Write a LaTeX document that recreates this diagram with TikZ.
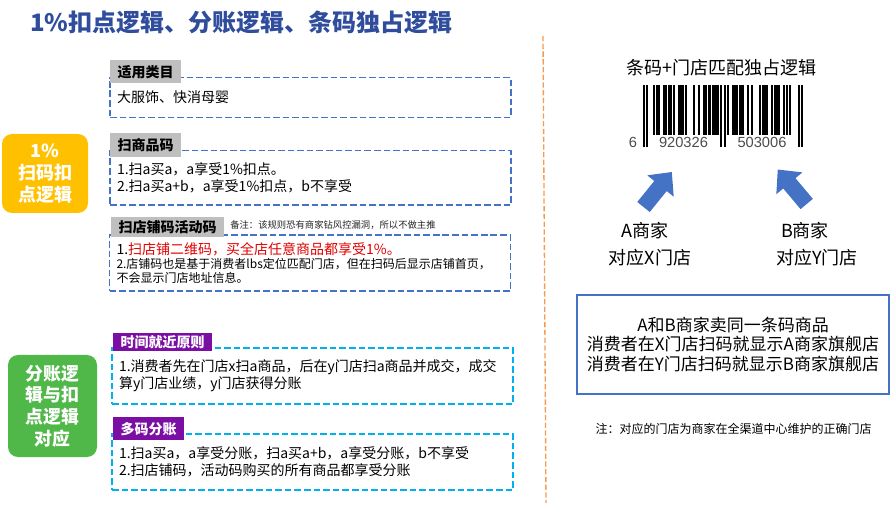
\documentclass[tikz,border=0pt]{standalone}
\usepackage{fontspec}
\setmainfont{Noto Sans CJK SC}
\newfontfamily\digitfont{Liberation Sans}
\usetikzlibrary{positioning}
\definecolor{titleblue}{HTML}{2F4D9C}
\definecolor{boxblue}{HTML}{4472C4}
\definecolor{boxcyan}{HTML}{00B0F0}
\definecolor{tagpurple}{HTML}{7B0FA3}
\definecolor{tagorange}{HTML}{FFC000}
\definecolor{taggreen}{HTML}{50B848}
\definecolor{tagred}{HTML}{E00000}
\definecolor{lineorange}{HTML}{F59B52}
\definecolor{taggrey}{HTML}{BFBFBF}
\tikzset{
  sidetag/.style={rounded corners=7.5pt,text=white,align=center,inner sep=0pt,font=\fontsize{13.5}{16.5}\selectfont\bfseries},
  dashbox/.style={draw=boxblue,dash pattern=on 5pt off 2.2pt,line width=0.9pt,text width=290.25pt,inner xsep=5.25pt,inner ysep=0pt,align=left},
  greytag/.style={fill=taggrey,anchor=north west,inner xsep=5.5pt,inner ysep=0pt,minimum height=17.25pt,font=\fontsize{10.5}{12}\selectfont\bfseries},
  purpletag/.style={greytag,fill=tagpurple,text=white},
  shoptext/.style={font=\fontsize{13.5}{15}\selectfont},
  digit/.style={text=black!70,inner sep=0pt,font=\digitfont\fontsize{11}{12}\selectfont}
}
\begin{document}
\begin{tikzpicture}[x=0.75pt,y=-0.75pt,font=\fontsize{10.5}{12.75}\selectfont]
\useasboundingbox (0,0) rectangle (890,506);
% title
\node[anchor=west,inner sep=0pt,text=titleblue,font=\fontsize{18}{20}\selectfont\bfseries] (title) at (30,22) {1\%扣点逻辑、分账逻辑、条码独占逻辑};
% left tags
\node[sidetag,fill=tagorange,minimum width=64.5pt,minimum height=59.25pt] (kou) at (45,173.5) {1\%\\扫码扣\\点逻辑};
\node[sidetag,fill=taggreen,minimum width=66.75pt,minimum height=76.5pt,font=\fontsize{13.4}{16.3}\selectfont\bfseries] (fen) at (52.5,406) {分账逻\\辑与扣\\点逻辑\\对应};
% rule boxes
\node[dashbox,minimum height=29.7pt] (lei) at (310.5,97.5) {大服饰、快消母婴};
\node[greytag] (leitag) at (110,60) {适用类目};
\node[dashbox,minimum height=40.7pt] (sao) at (310.5,177.9) {1.扫a买a，a享受1\%扣点。\\2.扫a买a+b，a享受1\%扣点，b不享受};
\node[greytag,minimum height=18pt] (saotag) at (110,133) {扫商品码};
\node[dashbox,minimum height=42pt,font=\fontsize{9}{10.7}\selectfont] (dian) at (310,263) {{\fontsize{10.5}{10.7}\selectfont 1.\color{tagred}扫店铺二维码，买全店任意商品都享受1\%。}\\2.店铺码也是基于消费者lbs定位匹配门店，但在扫码后显示店铺首页，\\不会显示门店地址信息。};
\node[greytag,minimum height=15pt] (diantag) at (111,217) {扫店铺码活动码};
\node[anchor=west,inner sep=0pt,text=black!85,font=\fontsize{7}{8}\selectfont] (beizhu) at (230,225.5) {备注：该规则恐有商家钻风控漏洞，所以不做主推};
\node[dashbox,draw=boxcyan,minimum height=42pt] (jin) at (312.5,376) {1.消费者先在门店x扫a商品，后在y门店扫a商品并成交，成交\\算y门店业绩，y门店获得分账};
\node[purpletag,minimum height=13.5pt] (jintag) at (113,333) {时间就近原则};
\node[dashbox,draw=boxcyan,minimum height=42pt] (duo) at (312.5,462) {1.扫a买a，a享受分账，扫a买a+b，a享受分账，b不享受\\2.扫店铺码，活动码购买的所有商品都享受分账};
\node[purpletag] (duotag) at (113,417) {多码分账};
% divider
\coordinate (top) at (543,36);
\coordinate (bot) at (546,503);
\draw[lineorange,line width=1pt,dash pattern=on 4pt off 1.8pt] (top) -- (bot);
% barcode
\node[shoptext] (bartitle) at (721.5,68) {条码+门店匹配独占逻辑};
\foreach \b [count=\i] in {1,0,1, 0,0,0,1,0,1,1, 0,0,1,1,0,1,1, 0,1,0,0,1,1,1, 0,1,0,0,0,0,1, 0,0,1,0,0,1,1, 0,1,0,1,1,1,1, 0,1,0,1,0, 1,0,0,1,1,1,0, 1,1,1,0,0,1,0, 1,0,0,0,0,1,0, 1,1,1,0,0,1,0, 1,1,1,0,0,1,0, 1,0,1,0,0,0,0, 1,0,1}
  {\ifnum\b=1 \fill ({643+(\i-1)*1.684-0.2},85) rectangle ({643+\i*1.684+0.2},135);\fi}
\foreach \i in {1,3,47,49,93,95} \fill ({643+(\i-1)*1.684-0.2},135) rectangle ({643+\i*1.684+0.2},147);
\node[digit] (dfirst) at (633,142) {6};
\node[digit] (dleft) at (683.5,142) {920326};
\node[digit] (dright) at (762,142) {503006};
% arrows
\foreach \x/\y/\a in {643.5/207/51,806.7/204/130}
  \fill[boxblue,shift={(\x,\y)},rotate=\a] (0,-8) -- (27,-8) -- (27,-17) -- (45,0) -- (27,17) -- (27,8) -- (0,8) -- cycle;
\node[shoptext] (ashop) at (645,230.7) {A商家};
\node[shoptext] (astore) at (650,258) {对应X门店};
\node[shoptext] (bshop) at (805,230.7) {B商家};
\node[shoptext] (bstore) at (817,258) {对应Y门店};
% summary
\node[draw=boxblue,line width=0.8pt,minimum width=234pt,minimum height=74.25pt,align=center,font=\fontsize{12.75}{14.6}\selectfont] (same) at (733,344.5) {A和B商家卖同一条码商品\\消费者在X门店扫码就显示A商家旗舰店\\消费者在Y门店扫码就显示B商家旗舰店};
\node[font=\fontsize{9}{10}\selectfont] (zhu) at (733.5,429) {注：对应的门店为商家在全渠道中心维护的正确门店};
\end{tikzpicture}
\end{document}
